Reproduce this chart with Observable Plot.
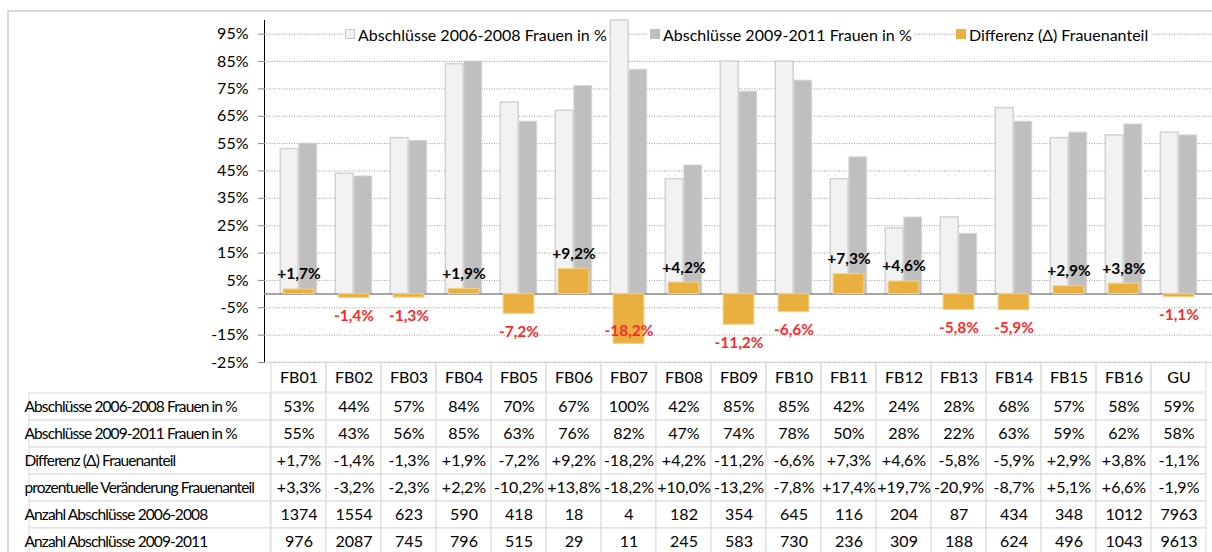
<!DOCTYPE html>
<html><head><meta charset="utf-8">
<script src="https://cdn.jsdelivr.net/npm/d3@7"></script>
<script src="https://cdn.jsdelivr.net/npm/@observablehq/plot@0.6"></script>
<style>
body{margin:0;background:#fff;}
#wrap{position:relative;width:1212px;height:552px;overflow:hidden;background:#fff;font-family:Lato,sans-serif;}
#chart,#table{position:absolute;left:0;}
#chart{top:0} #table{top:392px}
#border{position:absolute;left:7px;top:10px;width:1300px;height:700px;border-left:2px solid #d9d9d9;border-top:2px solid #d9d9d9;pointer-events:none;}
.item{position:absolute;top:24px;height:20px;background:#fff;display:flex;align-items:center;font-size:16px;color:#000;white-space:nowrap;padding:0 2px 0 1px;}
.sw{width:10px;height:10px;box-sizing:border-box;margin-right:3px;}
g[aria-label^="y-axis"] line, g[aria-label^="y-axis"] path{stroke:#888;}
</style></head>
<body>
<div id="wrap">
  <div id="chart"></div>
  <div id="table"></div>
  <div id="legend"></div>
  <div id="border"></div>
</div>
<script>
const categories = ["FB01","FB02","FB03","FB04","FB05","FB06","FB07","FB08","FB09","FB10","FB11","FB12","FB13","FB14","FB15","FB16","GU"];
const share0608 = [53,44,57,84,70,67,100,42,85,85,42,24,28,68,57,58,59];
const share0911 = [55,43,56,85,63,76,82,47,74,78,50,28,22,63,59,62,58];
const diffShare = [1.7,-1.4,-1.3,1.9,-7.2,9.2,-18.2,4.2,-11.2,-6.6,7.3,4.6,-5.8,-5.9,2.9,3.8,-1.1];
const pctChange = [3.3,-3.2,-2.3,2.2,-10.2,13.8,-18.2,10.0,-13.2,-7.8,17.4,19.7,-20.9,-8.7,5.1,6.6,-1.9];
const count0608 = [1374,1554,623,590,418,18,4,182,354,645,116,204,87,434,348,1012,7963];
const count0911 = [976,2087,745,796,515,29,11,245,583,730,236,309,188,624,496,1043,9613];
const yTicks = [-25,-15,-5,5,15,25,35,45,55,65,75,85,95];
const seriesNames = ["Abschlüsse 2006-2008 Frauen in %","Abschlüsse 2009-2011 Frauen in %","Differenz (Δ) Frauenanteil"];
const extraRows = ["prozentuelle Veränderung Frauenanteil","Anzahl Abschlüsse 2006-2008","Anzahl Abschlüsse 2009-2011"];
const seriesColors = ["#f2f2f2","#bfbfbf","#e9b03f"];

const rowLabels = [...seriesNames, ...extraRows];
const signed = v => (v > 0 ? "+" : "") + v.toFixed(1).replace(".", ",") + "%";
const rowValues = [
  share0608.map(v => v + "%"),
  share0911.map(v => v + "%"),
  diffShare.map(signed),
  pctChange.map(signed),
  count0608.map(String),
  count0911.map(String)
];

const W = 1212, ML = 264, bw = (W - ML) / categories.length, barW = 18.6;
const data = categories.map((c, i) => ({cat: c, a: share0608[i], b: share0911[i], d: diffShare[i]}));
const font = "Lato, sans-serif";

const chart = Plot.plot({
  width: W, height: 392, marginLeft: ML, marginRight: 0, marginTop: 20, marginBottom: 30,
  style: {fontFamily: font, fontSize: "16px", color: "#000", background: "#fff", overflow: "visible"},
  x: {domain: categories, padding: 0, axis: null},
  y: {domain: [-25, 100], ticks: yTicks, tickFormat: d => d + "%", tickSize: 6, tickPadding: 10, line: true, label: null},
  marks: [
    Plot.ruleY(yTicks, {stroke: "#9a9a9a", strokeDasharray: "1,1.5"}),
    Plot.barY(categories, {x: d => d, y1: () => -25, y2: () => -36, fill: "none", stroke: "#d9d9d9"}),
    Plot.text(categories, {x: d => d, y: () => -25, dy: 15, text: d => d, fontSize: 16}),
    Plot.barY(data, {x: "cat", y: "a", fill: seriesColors[0], stroke: "#d2d2d2", strokeWidth: 1.5, insetLeft: bw / 2 - barW, insetRight: bw / 2}),
    Plot.barY(data, {x: "cat", y: "b", fill: seriesColors[1], stroke: "#d6d6d6", strokeWidth: 1, insetLeft: bw / 2, insetRight: bw / 2 - barW}),
    Plot.ruleY([0], {stroke: "#888", strokeWidth: 1.5}),
    Plot.barY(data, {x: "cat", y: "d", fill: seriesColors[2], stroke: "#f2d28e", strokeWidth: 1, insetLeft: 12.1, insetRight: 12.1}),
    Plot.text(data.filter(d => d.d >= 0), {x: "cat", y: "d", text: d => signed(d.d), dy: -15, fontSize: 15.5, fontWeight: "bold", fill: "#000"}),
    Plot.text(data.filter(d => d.d < 0 && d.d > -15), {x: "cat", y: "d", text: d => signed(d.d), dy: 18, fontSize: 15.5, fontWeight: "bold", fill: "#ff2a2a"}),
    Plot.text(data.filter(d => d.d <= -15), {x: "cat", y: "d", text: d => signed(d.d), dy: -13, fontSize: 15.5, fontWeight: "bold", fill: "#ff2a2a"})
  ]
});
document.getElementById("chart").appendChild(chart);
d3.select(chart).selectAll('g[aria-label^="y-axis"] line, g[aria-label^="y-axis"] path').attr("stroke", "#888");

const cells = [];
rowLabels.forEach((r, j) => categories.forEach((c, i) => cells.push({cat: c, row: r, txt: rowValues[j][i]})));

const table = Plot.plot({
  width: W, height: 164, marginLeft: ML, marginRight: 0, marginTop: 0, marginBottom: 0,
  style: {fontFamily: font, fontSize: "16px", color: "#000", background: "#fff", overflow: "visible"},
  x: {domain: categories, padding: 0, axis: null},
  y: {domain: rowLabels, padding: 0, axis: null},
  marks: [
    Plot.cell(cells, {x: "cat", y: "row", fill: "#fff", stroke: "#d9d9d9"}),
    Plot.cell(rowLabels, {x: () => categories[0], y: d => d, fill: "#fff", stroke: "#d9d9d9", insetLeft: -(ML - 22), insetRight: bw}),
    Plot.text(cells, {x: "cat", y: "row", text: "txt", fontSize: 16}),
    Plot.text(rowLabels, {y: d => d, text: d => d, frameAnchor: "left", dx: -(ML - 24), textAnchor: "start", fontSize: 15.5})
  ]
});
document.getElementById("table").appendChild(table);
d3.select(table).selectAll("text").filter(function() { return rowLabels.includes(this.textContent); })
  .style("letter-spacing", "-0.9px");

const legendLeft = [344, 649, 955];
const legend = document.getElementById("legend");
seriesNames.forEach((name, i) => {
  const item = document.createElement("div");
  item.className = "item";
  item.style.left = legendLeft[i] + "px";
  const sw = document.createElement("span");
  sw.className = "sw";
  sw.style.background = seriesColors[i];
  sw.style.border = "1px solid " + (i === 0 ? "#c8c8c8" : seriesColors[i]);
  item.appendChild(sw);
  item.appendChild(document.createTextNode(name));
  legend.appendChild(item);
});
</script>
</body></html>
